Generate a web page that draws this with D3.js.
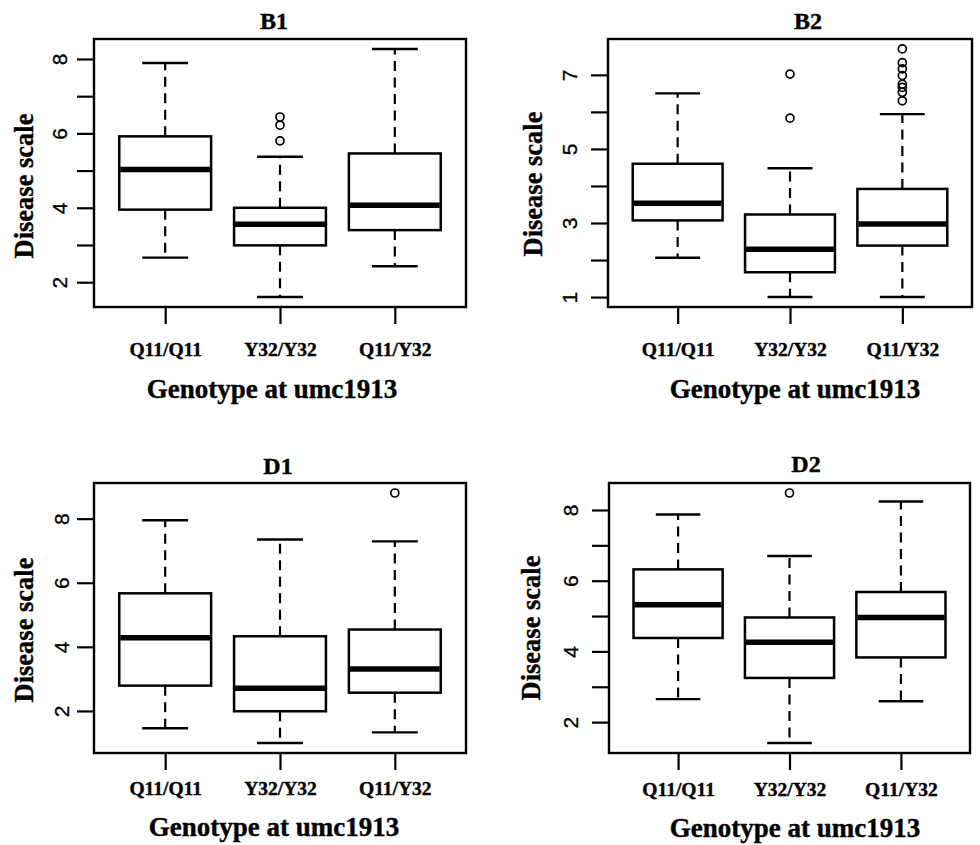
<!DOCTYPE html>
<html>
<head>
<meta charset="utf-8">
<script src="https://cdn.jsdelivr.net/npm/d3@7"></script>
<style>
  body { margin: 0; background: #fff; }
</style>
</head>
<body>
<div id="chart"></div>
<script>
  const genotypes = ["Q11/Q11", "Y32/Y32", "Q11/Y32"];

  // [lower whisker, Q1, median, Q3, upper whisker] for each genotype
  const statsB1 = [[2.66, 3.95, 5.03, 5.92, 7.89], [1.60, 2.99, 3.56, 4.00, 5.37], [2.43, 3.40, 4.07, 5.46, 8.27]];
  const outliersB1 = [[], [6.44, 6.22, 5.80], []];
  const statsB2 = [[2.06, 3.07, 3.53, 4.60, 6.50], [1.00, 1.67, 2.29, 3.23, 4.48], [1.00, 2.39, 2.97, 3.92, 5.94]];
  const outliersB2 = [[], [7.02, 5.83], [7.70, 7.33, 7.16, 6.98, 6.75, 6.66, 6.53, 6.30]];
  const statsD1 = [[1.46, 2.79, 4.28, 5.67, 7.95], [1.00, 1.99, 2.71, 4.33, 7.35], [1.33, 2.57, 3.31, 4.54, 7.29]];
  const outliersD1 = [[], [], [8.80]];
  const statsD2 = [[2.65, 4.38, 5.32, 6.32, 7.87], [1.41, 3.25, 4.26, 4.96, 6.70], [2.59, 3.83, 4.96, 5.68, 8.24]];
  const outliersD2 = [[], [8.48], []];

  // y ticks, and the ticks that carry a label
  const ticksB1 = [2, 3, 4, 5, 6, 7, 8], labelsB1 = [2, 4, 6, 8];
  const ticksB2 = [1, 2, 3, 4, 5, 6, 7], labelsB2 = [1, 3, 5, 7];
  const ticksD1 = [2, 4, 6, 8], labelsD1 = [2, 4, 6, 8];
  const ticksD2 = [2, 3, 4, 5, 6, 7, 8], labelsD2 = [2, 4, 6, 8];

  const yTitle = "Disease scale";
  const xTitle = "Genotype at umc1913";

  const width = 980, height = 845;
  const svg = d3.select("#chart")
    .append("svg")
      .attr("width", width)
      .attr("height", height)
      .style("background", "#fff");

  const serif = "'Liberation Serif', 'Times New Roman', serif";
  const sans = "'Liberation Sans', Arial, sans-serif";

  const createBoxPanel = (name, stats, outliers, ticks, labels, L) => {
    const g = svg.append("g");

    // R pads the data range by 4% on each side
    const all = stats.flat().concat(outliers.flat());
    const [lo, hi] = d3.extent(all);
    const pad = (hi - lo) * 0.04;
    const yScale = d3.scaleLinear()
      .domain([lo - pad, hi + pad])
      .range([L.bottom, L.top]);

    const xScale = d3.scalePoint()
      .domain(genotypes)
      .range([L.left, L.right])
      .padding(0.62);
    const boxW = xScale.step() * 0.8;
    const capW = boxW * 0.5;

    // y axis
    const yGroup = g.append("g")
      .attr("transform", `translate(${L.left},0)`)
      .call(d3.axisLeft(yScale).tickValues(ticks).tickSize(17)
        .tickFormat(d => labels.includes(d) ? d : ""));
    yGroup.select(".domain").remove();
    yGroup.selectAll(".tick line").attr("stroke", "#000").attr("stroke-width", 2.2);
    yGroup.selectAll(".tick text")
      .attr("x", 0).attr("y", 0).attr("dy", 0)
      .attr("transform", `translate(${L.tickLabX - L.left + 7.5},0) rotate(-90)`)
      .attr("text-anchor", "middle")
      .style("font-family", sans)
      .style("font-size", "21px")
      .attr("fill", "#000")
      .attr("stroke", "#000").attr("stroke-width", 0.3);

    // x axis
    const xGroup = g.append("g")
      .attr("transform", `translate(0,${L.bottom})`)
      .call(d3.axisBottom(xScale).tickSize(17));
    xGroup.select(".domain").remove();
    xGroup.selectAll(".tick line").attr("stroke", "#000").attr("stroke-width", 2.2);
    xGroup.selectAll(".tick text")
      .attr("y", L.xTickY - L.bottom).attr("dy", 0)
      .style("font-family", serif)
      .style("font-size", "19.5px")
      .style("font-weight", "bold")
      .attr("fill", "#000")
      .attr("stroke", "#000").attr("stroke-width", 0.4);

    const boxes = g.append("g")
      .selectAll("g")
      .data(stats.map((s, i) => ({key: genotypes[i], s: s, out: outliers[i]})))
      .join("g");

    // dashed whiskers from box to whisker end
    boxes.append("line")
      .attr("x1", d => xScale(d.key)).attr("x2", d => xScale(d.key))
      .attr("y1", d => yScale(d.s[3])).attr("y2", d => yScale(d.s[4]))
      .attr("stroke", "#000").attr("stroke-width", 2.2)
      .attr("stroke-dasharray", "10,6.5");
    boxes.append("line")
      .attr("x1", d => xScale(d.key)).attr("x2", d => xScale(d.key))
      .attr("y1", d => yScale(d.s[1])).attr("y2", d => yScale(d.s[0]))
      .attr("stroke", "#000").attr("stroke-width", 2.2)
      .attr("stroke-dasharray", "10,6.5");

    // whisker caps
    [0, 4].forEach(k => {
      boxes.append("line")
        .attr("x1", d => xScale(d.key) - capW / 2)
        .attr("x2", d => xScale(d.key) + capW / 2)
        .attr("y1", d => yScale(d.s[k])).attr("y2", d => yScale(d.s[k]))
        .attr("stroke", "#000").attr("stroke-width", 2.4);
    });

    boxes.append("rect")
      .attr("x", d => xScale(d.key) - boxW / 2)
      .attr("width", boxW)
      .attr("y", d => yScale(d.s[3]))
      .attr("height", d => yScale(d.s[1]) - yScale(d.s[3]))
      .attr("fill", "#fff")
      .attr("stroke", "#000").attr("stroke-width", 2.5);

    boxes.append("line")
      .attr("x1", d => xScale(d.key) - boxW / 2 + 1)
      .attr("x2", d => xScale(d.key) + boxW / 2 - 1)
      .attr("y1", d => yScale(d.s[2])).attr("y2", d => yScale(d.s[2]))
      .attr("stroke", "#000").attr("stroke-width", 5.5);

    boxes.selectAll("circle")
      .data(d => d.out.map(v => ({key: d.key, v: v})))
      .join("circle")
        .attr("cx", d => xScale(d.key))
        .attr("cy", d => yScale(d.v))
        .attr("r", 4)
        .attr("fill", "none")
        .attr("stroke", "#000").attr("stroke-width", 1.7);

    // plot frame
    g.append("rect")
      .attr("x", L.left).attr("y", L.top)
      .attr("width", L.right - L.left).attr("height", L.bottom - L.top)
      .attr("fill", "none")
      .attr("stroke", "#000").attr("stroke-width", 2.4);

    // titles
    g.append("text")
      .attr("x", L.titleX).attr("y", L.titleY)
      .attr("text-anchor", "middle")
      .style("font-family", serif).style("font-weight", "bold").style("font-size", "24px")
      .attr("stroke", "#000").attr("stroke-width", 0.4)
      .text(name);

    g.append("text")
      .attr("transform", `translate(${L.yLabX},${L.yLabY}) rotate(-90)`)
      .attr("text-anchor", "middle")
      .style("font-family", serif).style("font-weight", "bold").style("font-size", "26.5px")
      .attr("stroke", "#000").attr("stroke-width", 0.4)
      .text(yTitle);

    g.append("text")
      .attr("x", L.xTitleX).attr("y", L.xTitleY)
      .attr("text-anchor", "middle")
      .style("font-family", serif).style("font-weight", "bold").style("font-size", "27px")
      .attr("stroke", "#000").attr("stroke-width", 0.4)
      .text(xTitle);
  }

  createBoxPanel("B1", statsB1, outliersB1, ticksB1, labelsB1,
    {left: 94, right: 466, top: 39, bottom: 307, titleX: 274, titleY: 28.5,
     yLabX: 33, yLabY: 186, tickLabX: 59, xTickY: 356, xTitleX: 272, xTitleY: 398});
  createBoxPanel("B2", statsB2, outliersB2, ticksB2, labelsB2,
    {left: 608, right: 972, top: 39, bottom: 307, titleX: 808, titleY: 29,
     yLabX: 541.5, yLabY: 184, tickLabX: 569, xTickY: 356, xTitleX: 795, xTitleY: 398});
  createBoxPanel("D1", statsD1, outliersD1, ticksD1, labelsD1,
    {left: 94, right: 466, top: 483, bottom: 753, titleX: 278, titleY: 474,
     yLabX: 33, yLabY: 630, tickLabX: 61.5, xTickY: 794.5, xTitleX: 274, xTitleY: 836});
  createBoxPanel("D2", statsD2, outliersD2, ticksD2, labelsD2,
    {left: 609, right: 970, top: 483, bottom: 753, titleX: 806, titleY: 471.5,
     yLabX: 540, yLabY: 628, tickLabX: 570.5, xTickY: 796, xTitleX: 795, xTitleY: 837});
</script>
</body>
</html>
